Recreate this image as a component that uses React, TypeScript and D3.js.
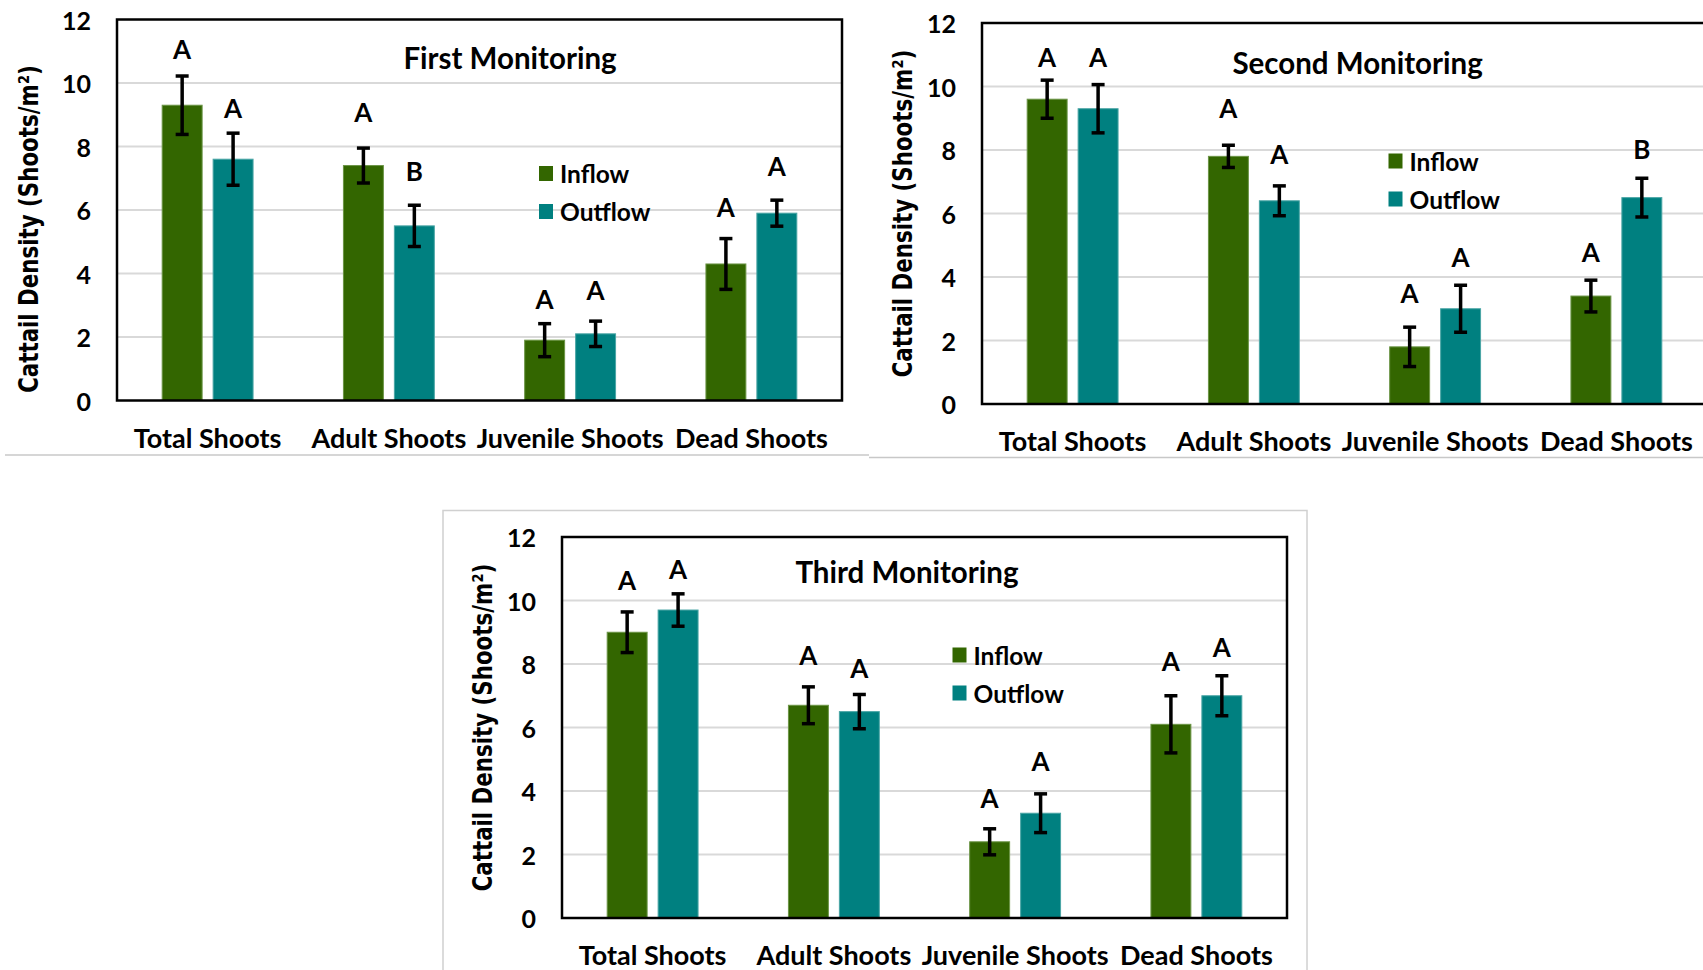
import React, { useEffect, useRef } from "react";
import * as d3 from "d3";

const categories = ["Total Shoots", "Adult Shoots", "Juvenile Shoots", "Dead Shoots"];
const seriesNames = ["Inflow", "Outflow"];
const yTicks = [0, 2, 4, 6, 8, 10, 12];

// first monitoring
const firstInflow = [9.3, 7.4, 1.9, 4.3];
const firstInflowErr = [0.92, 0.55, 0.52, 0.8];
const firstOutflow = [7.6, 5.5, 2.1, 5.9];
const firstOutflowErr = [0.82, 0.65, 0.4, 0.41];
const firstInflowLetters = ["A", "A", "A", "A"];
const firstOutflowLetters = ["A", "B", "A", "A"];
const firstInflowLetterAt = [11.07, 9.08, 3.2, 6.1];
const firstOutflowLetterAt = [9.2, 7.24, 3.49, 7.39];

// second monitoring
const secondInflow = [9.6, 7.8, 1.8, 3.4];
const secondInflowErr = [0.6, 0.35, 0.62, 0.5];
const secondOutflow = [9.3, 6.4, 3.0, 6.5];
const secondOutflowErr = [0.76, 0.47, 0.74, 0.61];
const secondInflowLetters = ["A", "A", "A", "A"];
const secondOutflowLetters = ["A", "A", "A", "B"];
const secondInflowLetterAt = [10.93, 9.32, 3.51, 4.8];
const secondOutflowLetterAt = [10.93, 7.88, 4.64, 8.04];

// third monitoring
const thirdInflow = [9.0, 6.7, 2.4, 6.1];
const thirdInflowErr = [0.64, 0.58, 0.41, 0.9];
const thirdOutflow = [9.7, 6.5, 3.3, 7.0];
const thirdOutflowErr = [0.51, 0.54, 0.61, 0.63];
const thirdInflowLetters = ["A", "A", "A", "A"];
const thirdOutflowLetters = ["A", "A", "A", "A"];
const thirdInflowLetterAt = [10.65, 8.28, 3.79, 8.1];
const thirdOutflowLetterAt = [11.0, 7.88, 4.95, 8.54];

const colors = ["#336600", "#008080"];
const edges = ["#6b9445", "#4aa5a5"];
const font = "Lato, 'Open Sans', sans-serif";

const W = 1703;
const H = 970;
const plotW = 725;
const plotH = 381;
const yTitleLength = 328;

const buildRows = (inflow, inErr, inLet, inAt, outflow, outErr, outLet, outAt) =>
  categories.flatMap((c, i) => [
    { cat: c, s: seriesNames[0], v: inflow[i], e: inErr[i], letter: inLet[i], at: inAt[i] },
    { cat: c, s: seriesNames[1], v: outflow[i], e: outErr[i], letter: outLet[i], at: outAt[i] },
  ]);

const panels = [
  {
    title: "First Monitoring",
    left: 117, top: 19.5,
    titleX: 393, titleY: 37.5,
    legendX: 429, legendY: 154,
    yTitleX: -79, yTitleY: 19,
    rows: buildRows(firstInflow, firstInflowErr, firstInflowLetters, firstInflowLetterAt,
      firstOutflow, firstOutflowErr, firstOutflowLetters, firstOutflowLetterAt),
  },
  {
    title: "Second Monitoring",
    left: 982, top: 23,
    titleX: 375.6, titleY: 39,
    legendX: 413.5, legendY: 138,
    yTitleX: -70, yTitleY: 0,
    rows: buildRows(secondInflow, secondInflowErr, secondInflowLetters, secondInflowLetterAt,
      secondOutflow, secondOutflowErr, secondOutflowLetters, secondOutflowLetterAt),
  },
  {
    title: "Third Monitoring",
    left: 562, top: 537,
    titleX: 345, titleY: 34,
    legendX: 397.5, legendY: 118,
    yTitleX: -70.5, yTitleY: 0,
    rows: buildRows(thirdInflow, thirdInflowErr, thirdInflowLetters, thirdInflowLetterAt,
      thirdOutflow, thirdOutflowErr, thirdOutflowLetters, thirdOutflowLetterAt),
  },
];

const App = () => {
  const svgRef = useRef(null);

  useEffect(() => {
    const root = d3.select(svgRef.current);
    root.selectAll("*").remove();

    root.append("rect").attr("width", W).attr("height", H).attr("fill", "#fff");

    // panel borders left over from the spreadsheet export
    root.append("line").attr("x1", 5).attr("x2", 869).attr("y1", 455).attr("y2", 455)
      .attr("stroke", "#c8c8c8").attr("stroke-width", 1.5);
    root.append("line").attr("x1", 869).attr("x2", W).attr("y1", 457.5).attr("y2", 457.5)
      .attr("stroke", "#c8c8c8").attr("stroke-width", 1.5);
    root.append("rect").attr("x", 443).attr("y", 510.5).attr("width", 864).attr("height", 520)
      .attr("fill", "none").attr("stroke", "#d0d0d0").attr("stroke-width", 1.5);

    const x0 = d3.scaleBand().domain(categories).range([0, plotW]).padding(0);
    const x1 = d3.scaleBand().domain(seriesNames).range([0, x0.bandwidth()])
      .paddingInner(0.216).paddingOuter(0.887);
    const y = d3.scaleLinear().domain([0, 12]).range([plotH, 0]);

    panels.forEach(p => {
      const g = root.append("g").attr("transform", `translate(${p.left}, ${p.top})`);

      g.selectAll(".grid")
        .data(yTicks.filter(t => t > 0 && t < 12))
        .join("line")
        .attr("x1", 0).attr("x2", plotW)
        .attr("y1", d => y(d)).attr("y2", d => y(d))
        .attr("stroke", "#d9d9d9").attr("stroke-width", 2);

      g.selectAll(".tick-label")
        .data(yTicks)
        .join("text")
        .attr("x", -26).attr("y", d => y(d))
        .attr("text-anchor", "end").attr("dominant-baseline", "central")
        .style("font-family", font).style("font-weight", 700).style("font-size", "25px")
        .text(d => d);

      const bx = d => x0(d.cat) + x1(d.s);

      g.selectAll(".bar")
        .data(p.rows)
        .join("rect")
        .attr("x", d => bx(d))
        .attr("y", d => y(d.v))
        .attr("width", x1.bandwidth())
        .attr("height", d => plotH - y(d.v))
        .attr("fill", d => colors[seriesNames.indexOf(d.s)])
        .attr("stroke", d => edges[seriesNames.indexOf(d.s)])
        .attr("stroke-width", 1);

      const cx = d => bx(d) + x1.bandwidth() / 2;
      const cap = 6.5;
      const err = g.append("g").attr("stroke", "#000").attr("stroke-width", 3.5);
      err.selectAll(".v").data(p.rows).join("line")
        .attr("x1", cx).attr("x2", cx)
        .attr("y1", d => y(d.v + d.e)).attr("y2", d => y(d.v - d.e));
      err.selectAll(".t").data(p.rows).join("line")
        .attr("x1", d => cx(d) - cap).attr("x2", d => cx(d) + cap)
        .attr("y1", d => y(d.v + d.e)).attr("y2", d => y(d.v + d.e));
      err.selectAll(".b").data(p.rows).join("line")
        .attr("x1", d => cx(d) - cap).attr("x2", d => cx(d) + cap)
        .attr("y1", d => y(d.v - d.e)).attr("y2", d => y(d.v - d.e));

      g.selectAll(".letter")
        .data(p.rows)
        .join("text")
        .attr("x", cx).attr("y", d => y(d.at))
        .attr("text-anchor", "middle").attr("dominant-baseline", "central")
        .style("font-family", font).style("font-weight", 700).style("font-size", "26px")
        .text(d => d.letter);

      g.append("rect")
        .attr("width", plotW).attr("height", plotH)
        .attr("fill", "none").attr("stroke", "#000").attr("stroke-width", 2.5);

      g.selectAll(".cat")
        .data(categories)
        .join("text")
        .attr("x", d => x0(d) + x0.bandwidth() / 2)
        .attr("y", plotH + 47)
        .attr("text-anchor", "middle")
        .style("font-family", font).style("font-weight", 700).style("font-size", "27px")
        .text(d => d);

      g.append("text")
        .attr("x", p.titleX).attr("y", p.titleY)
        .attr("text-anchor", "middle").attr("dominant-baseline", "central")
        .style("font-family", font).style("font-weight", 700).style("font-size", "29.5px")
        .text(p.title);

      // y title: tall glyphs squeezed along the reading direction
      const yTitle = g.append("text")
        .attr("text-anchor", "middle")
        .style("font-family", "'DejaVu Sans', Verdana, sans-serif")
        .style("font-weight", 700).style("font-size", "27px")
        .text("Cattail Density (Shoots/m²)");
      const natural = yTitle.node().getComputedTextLength() || yTitleLength;
      yTitle.attr("transform",
        `translate(${p.yTitleX}, ${plotH / 2 + p.yTitleY}) rotate(-90) scale(${yTitleLength / natural}, 1)`);

      const legend = g.selectAll(".legend")
        .data(seriesNames)
        .join("g")
        .attr("transform", (d, i) => `translate(${p.legendX}, ${p.legendY + i * 38})`);
      legend.append("rect")
        .attr("x", -7).attr("y", -7.5).attr("width", 14).attr("height", 15)
        .attr("fill", (d, i) => colors[i]);
      legend.append("text")
        .attr("x", 14).attr("y", 0)
        .attr("dominant-baseline", "central")
        .style("font-family", font).style("font-weight", 700).style("font-size", "24.5px")
        .text(d => d);
    });
  }, []);

  return (
    <svg
      ref={svgRef}
      width={W}
      height={H}
      style={{ position: "absolute", left: 0, top: 0, display: "block" }}
    />
  );
};

export default App;
